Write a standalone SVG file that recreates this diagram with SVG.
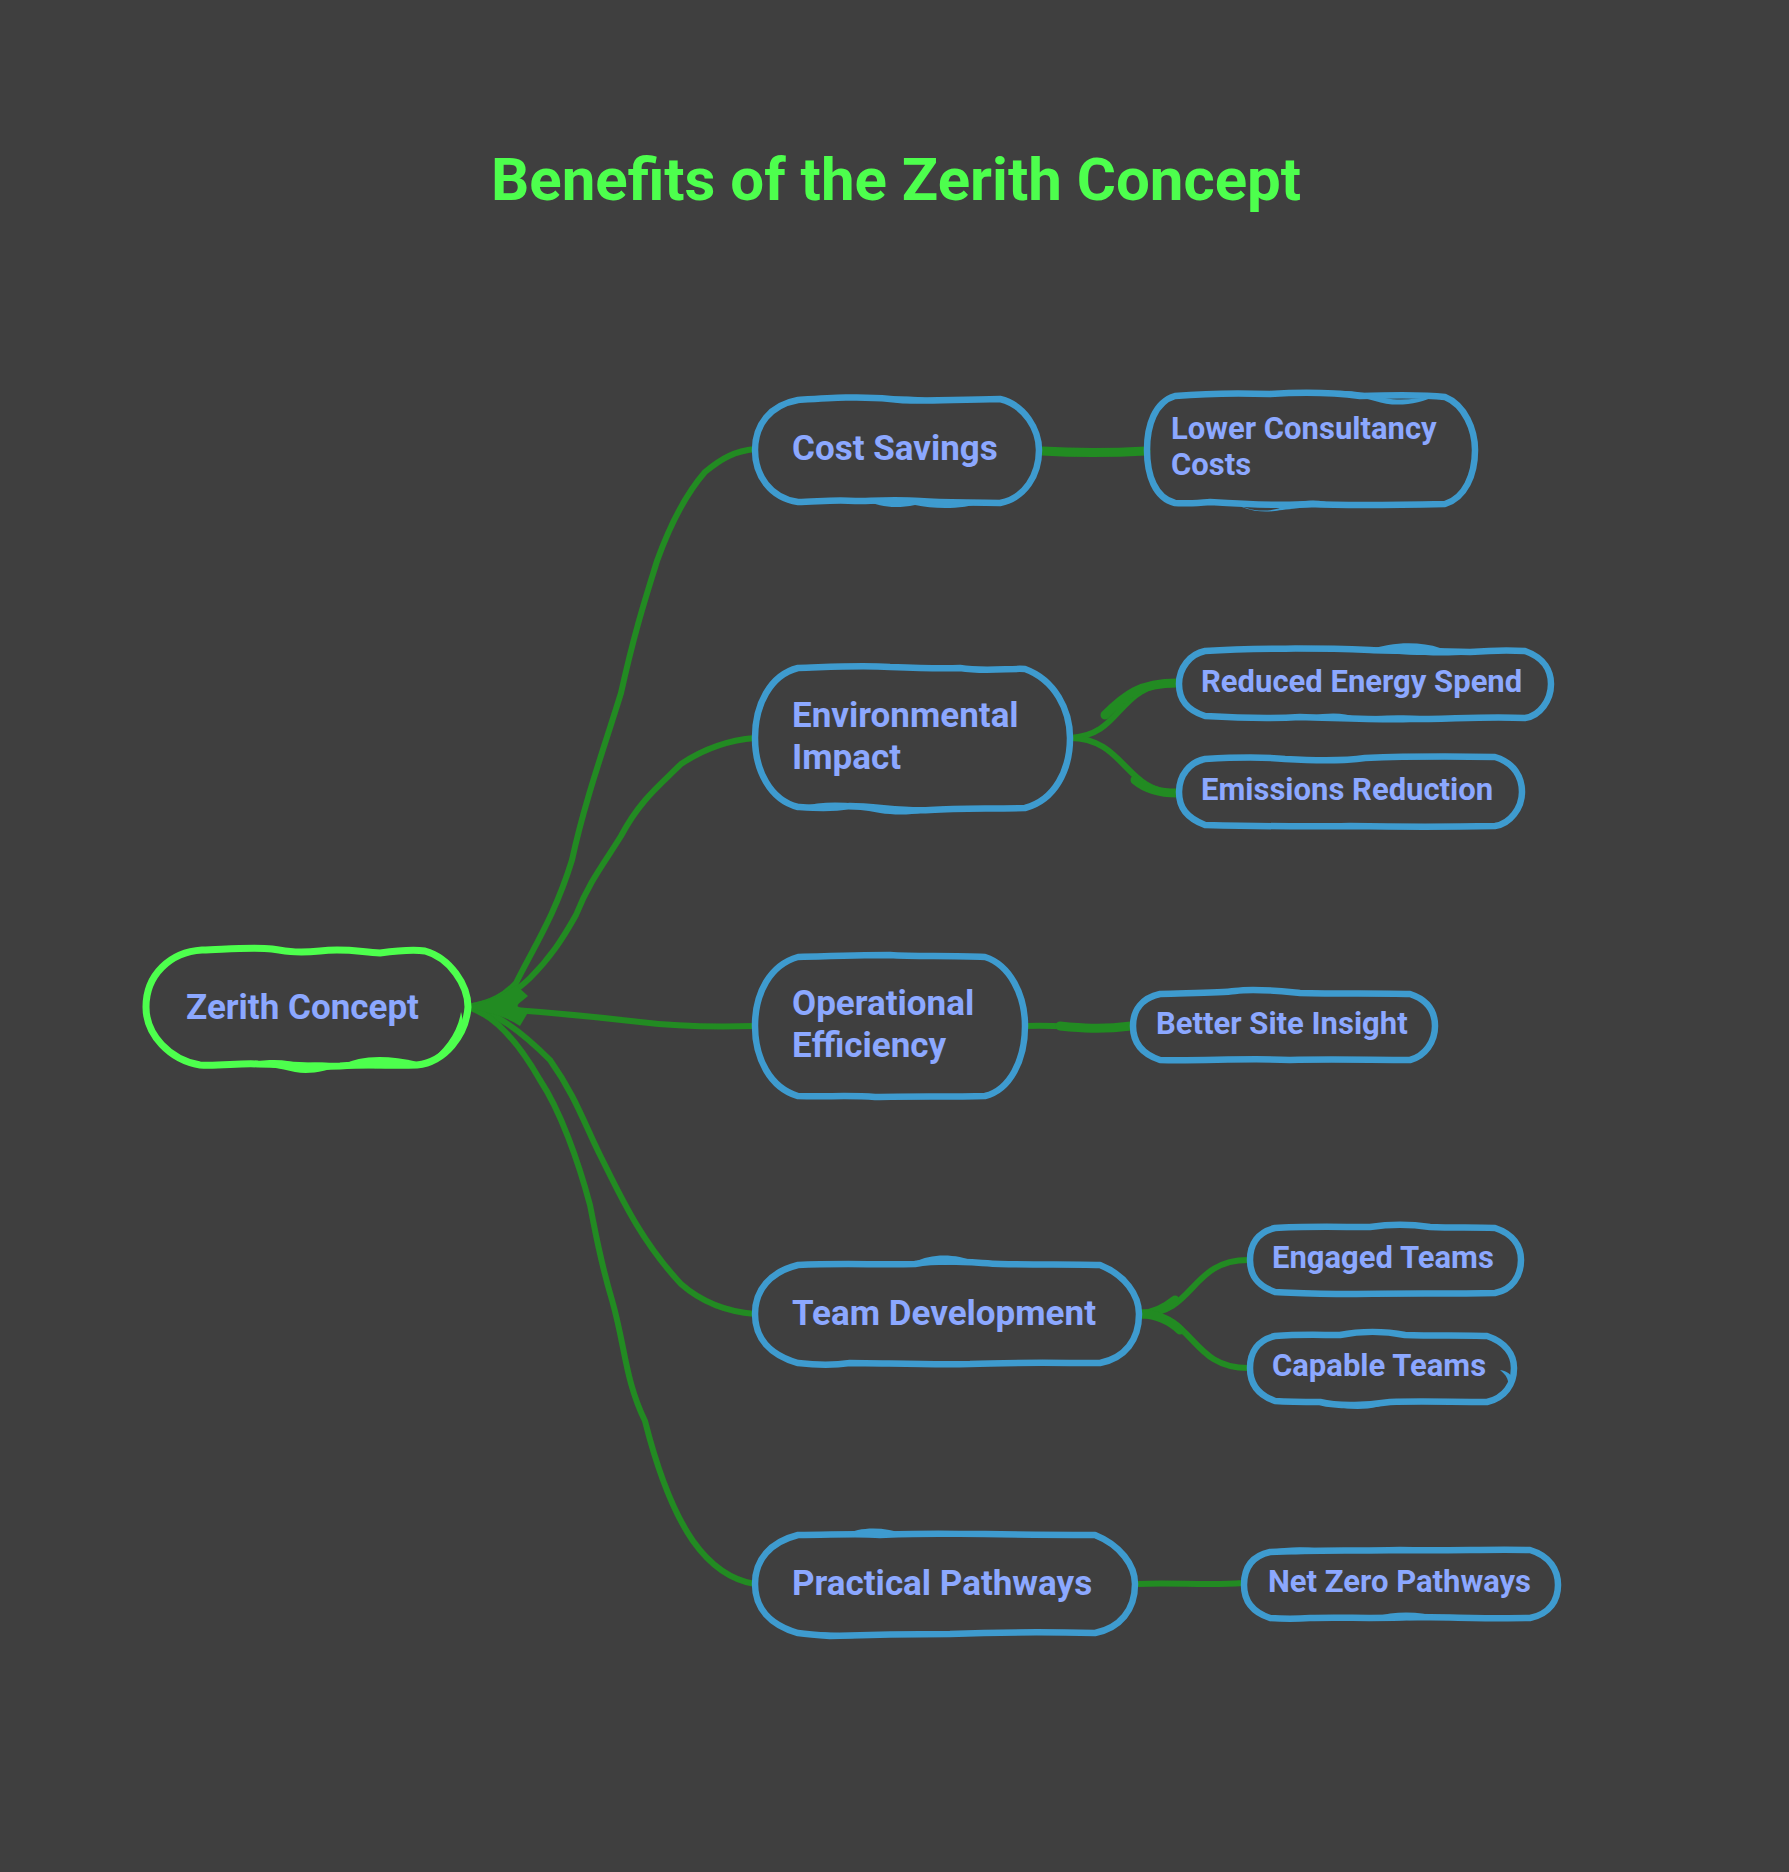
<svg xmlns="http://www.w3.org/2000/svg" width="1789" height="1872" viewBox="0 0 1789 1872">
<style>
text{font-family:Roboto,"Liberation Sans",sans-serif;font-weight:700;fill:#8ca8ff}
.t{font-size:60px;fill:#4dff4d}
.a{font-size:35px}
.b{font-size:31px}
.o{fill:none;stroke:#3e9bcf;stroke-width:6.5;stroke-linejoin:round}
.f{fill:#3e9bcf}
.ro{fill:none;stroke:#4dff4d;stroke-width:7;stroke-linejoin:round}
.rf{fill:#4dff4d}
.c{fill:none;stroke:#228b22;stroke-width:6;stroke-linecap:round}
.k{fill:none;stroke:#228b22;stroke-width:9;stroke-linecap:round}
.w{fill:#228b22}
</style>
<rect width="1789" height="1872" fill="#3f3f3f"/>
<text class="t" x="491" y="200">Benefits of the Zerith Concept</text>
<g id="connectors">
<path class="c" d="M468 1007C492 1003 505 995 516 983C535 945 555 915 572 860C585 800 605 745 621 693C635 630 645 600 657 561C670 525 685 495 705 472C722 458 735 451 755 449"/>
<path class="c" d="M468 1007C490 1003 510 998 530 978C550 958 562 940 576 915C590 880 605 862 621 836C640 800 660 785 681 764C705 748 730 740 755 738"/>
<path class="c" d="M468 1007C520 1010 570 1014 640 1022C680 1027 720 1027 755 1026"/>
<path class="c" d="M468 1007C495 1012 520 1030 550 1060C575 1095 585 1125 600 1155C620 1195 640 1240 681 1284C705 1305 730 1312 755 1314"/>
<path class="c" d="M468 1007C495 1015 520 1045 540 1080C560 1110 578 1160 590 1205C597 1240 600 1260 612 1300C625 1345 625 1380 645 1421C660 1480 675 1515 693 1541C710 1565 730 1580 755 1584"/>
<path class="w" d="M464 1007C485 1003 500 996 516 985L528 996C518 1005 510 1007 530 1009L520 1026C505 1016 485 1011 464 1007Z"/>
<path class="k" d="M1042 451C1075 453 1110 453 1146 451"/>
<path class="c" d="M1070 738C1125 735 1115 683 1177 683"/>
<path class="k" d="M1105 715C1125 695 1140 683 1177 683"/>
<path class="c" d="M1070 738C1125 738 1125 793 1177 793"/>
<path class="k" d="M1135 780C1147 790 1160 793 1177 793"/>
<path class="c" d="M1025 1026C1060 1024 1090 1030 1131 1026"/>
<path class="k" d="M1060 1026C1080 1028 1100 1030 1131 1026"/>
<path class="c" d="M1142 1314C1195 1314 1190 1260 1248 1260"/>
<path class="c" d="M1142 1314C1195 1314 1190 1368 1248 1368"/>
<path class="k" d="M1142 1314C1155 1314 1165 1308 1175 1300"/>
<path class="k" d="M1142 1314C1155 1314 1170 1320 1180 1330"/>
<path class="c" d="M1137 1584C1175 1582 1205 1586 1243 1583"/>
</g>
<g id="root">
<path class="ro" d="M202 950C230 949 255 947 272 949C290 952 300 953 320 951C345 948 360 952 380 953C395 951 410 949 425 951C450 958 468 985 468 1007C466 1035 445 1062 417 1065C390 1066 370 1064 340 1066C310 1067 280 1064 258 1064C240 1063 220 1066 200 1065C170 1060 146 1035 146 1007C146 975 170 952 202 950Z"/>
<path class="rf" d="M255 1062C275 1058 290 1061 302 1064C315 1061 335 1063 345 1065C325 1071 310 1075 295 1072C280 1068 265 1067 255 1062Z"/>
<path class="rf" d="M343 1065C358 1056 385 1054 418 1062C395 1069 370 1070 343 1065Z"/>
<path class="rf" d="M461 1012C468 1035 450 1058 425 1065C445 1050 458 1032 461 1012Z"/>
<text class="a" x="186" y="1019">Zerith Concept</text>
</g>
<g id="cost-savings">
<path class="o" d="M798 400C830 398 860 396 890 399C915 402 935 400 1000 399C1025 405 1039 430 1039 450C1039 475 1025 498 1000 503C970 502 945 503 920 501C895 499 870 501 855 501C835 499 815 502 798 502C770 498 755 475 755 450C755 425 770 405 798 400Z"/>
<path class="f" d="M880 398C900 395 925 397 940 400C915 405 895 404 880 398Z"/>
<path class="f" d="M865 500C880 504 900 504 915 500C925 505 950 506 985 502C960 510 935 509 915 505C895 509 880 507 865 500Z"/>
<text class="a" x="792" y="460">Cost Savings</text>
</g>
<g id="lower-consultancy">
<path class="o" d="M1175 396C1210 393 1240 393 1270 394C1300 392 1330 392 1360 396C1390 395 1420 394 1445 397C1465 405 1475 430 1475 450C1475 475 1465 498 1445 504C1400 505 1350 506 1310 504C1280 506 1240 504 1210 502C1195 503 1185 504 1175 503C1155 498 1147 475 1147 450C1147 425 1155 402 1175 396Z"/>
<path class="f" d="M1320 393C1340 388 1365 392 1385 398C1400 401 1415 399 1435 396C1420 404 1395 408 1375 401C1355 395 1335 396 1320 393Z"/>
<path class="f" d="M1235 503C1250 512 1270 513 1285 506C1300 500 1320 498 1335 505C1315 507 1285 509 1275 511C1260 513 1245 510 1235 503Z"/>
<text class="b" x="1171" y="439">Lower Consultancy</text>
<text class="b" x="1171" y="475">Costs</text>
</g>
<g id="environmental-impact">
<path class="o" d="M798 668C830 667 860 665 890 667C915 668 940 669 960 668C985 672 1010 668 1025 669C1055 680 1070 710 1070 738C1070 770 1055 800 1025 808C990 809 960 808 930 810C905 812 875 806 850 806C830 809 815 808 798 807C770 800 755 770 755 738C755 705 770 675 798 668Z"/>
<path class="f" d="M800 807C825 800 850 802 880 807C900 812 925 812 945 806C925 815 900 816 880 813C850 807 825 809 800 807Z"/>
<text class="a" x="792" y="727">Environmental</text>
<text class="a" x="792" y="769">Impact</text>
</g>
<g id="reduced-energy">
<path class="o" d="M1205 651C1250 648 1320 648 1370 650C1395 651 1430 651 1470 652C1495 650 1510 650 1525 651C1545 658 1551 672 1551 684C1551 700 1540 716 1525 718C1490 716 1450 719 1410 719C1380 720 1340 718 1300 717C1270 719 1240 718 1205 716C1187 710 1179 700 1179 684C1179 668 1190 654 1205 651Z"/>
<path class="f" d="M1370 650C1390 642 1420 641 1440 648C1455 652 1475 653 1495 651C1470 656 1440 656 1425 655C1405 655 1385 653 1370 650Z"/>
<path class="f" d="M1310 716C1330 712 1345 713 1355 717C1375 716 1395 714 1420 716C1400 723 1380 722 1360 720C1340 722 1325 720 1310 716Z"/>
<text class="b" x="1201" y="692">Reduced Energy Spend</text>
</g>
<g id="emissions-reduction">
<path class="o" d="M1205 759C1240 757 1265 757 1285 759C1320 761 1345 761 1365 758C1390 757 1430 756 1495 757C1515 763 1522 778 1522 792C1522 808 1510 824 1495 826C1450 827 1400 827 1350 826C1300 827 1250 826 1205 825C1187 818 1179 808 1179 792C1179 775 1190 762 1205 759Z"/>
<text class="b" x="1201" y="800">Emissions Reduction</text>
</g>
<g id="operational-efficiency">
<path class="o" d="M798 957C830 956 860 955 890 955C915 957 950 955 985 957C1010 965 1025 995 1025 1026C1025 1060 1010 1090 985 1096C950 1097 910 1096 875 1097C850 1095 825 1097 798 1096C770 1088 755 1058 755 1026C755 993 770 965 798 957Z"/>
<text class="a" x="792" y="1015">Operational</text>
<text class="a" x="792" y="1057">Efficiency</text>
</g>
<g id="better-site-insight">
<path class="o" d="M1160 994C1190 993 1220 993 1235 991C1255 988 1280 991 1300 993C1340 994 1380 993 1410 994C1428 1000 1435 1012 1435 1026C1435 1042 1425 1056 1410 1060C1370 1060 1330 1059 1290 1060C1250 1058 1200 1061 1160 1060C1142 1054 1133 1042 1133 1026C1133 1010 1142 998 1160 994Z"/>
<text class="b" x="1156" y="1034">Better Site Insight</text>
</g>
<g id="team-development">
<path class="o" d="M798 1265C840 1263 880 1265 915 1264C945 1259 975 1263 1000 1264C1040 1265 1070 1264 1100 1265C1125 1275 1139 1295 1139 1314C1139 1340 1125 1358 1100 1363C1060 1363 1010 1362 970 1364C930 1365 880 1363 850 1363C830 1366 815 1365 798 1363C770 1355 755 1338 755 1314C755 1290 770 1272 798 1265Z"/>
<path class="f" d="M915 1262C930 1254 955 1253 975 1262C955 1266 935 1266 915 1262Z"/>
<text class="a" x="792" y="1325">Team Development</text>
</g>
<g id="engaged-teams">
<path class="o" d="M1275 1228C1300 1226 1340 1227 1370 1227C1390 1224 1410 1224 1430 1227C1455 1228 1475 1227 1495 1228C1513 1234 1521 1246 1521 1260C1521 1276 1512 1290 1495 1293C1450 1294 1400 1293 1350 1294C1320 1294 1300 1293 1275 1292C1258 1286 1250 1276 1250 1260C1250 1244 1258 1232 1275 1228Z"/>
<text class="b" x="1272" y="1268">Engaged Teams</text>
</g>
<g id="capable-teams">
<path class="o" d="M1275 1336C1300 1334 1320 1335 1340 1335C1360 1331 1385 1331 1405 1335C1435 1336 1465 1335 1487 1336C1505 1342 1514 1354 1514 1368C1514 1384 1505 1398 1487 1402C1450 1402 1420 1401 1390 1402C1370 1405 1340 1407 1320 1402C1305 1402 1290 1402 1275 1401C1258 1395 1250 1384 1250 1368C1250 1352 1258 1340 1275 1336Z"/>
<path class="f" d="M1500 1370C1515 1372 1516 1385 1505 1393C1510 1385 1510 1378 1500 1370Z"/>
<path class="f" d="M1320 1400C1340 1404 1370 1404 1395 1400C1375 1412 1340 1412 1320 1400Z"/>
<text class="b" x="1272" y="1376">Capable Teams</text>
</g>
<g id="practical-pathways">
<path class="o" d="M798 1535C830 1535 860 1533 880 1535C915 1533 950 1534 985 1534C1030 1535 1060 1535 1095 1535C1120 1545 1135 1565 1135 1584C1135 1610 1120 1628 1095 1633C1050 1632 1000 1632 950 1634C910 1634 860 1635 830 1636C815 1635 805 1634 798 1633C770 1625 755 1608 755 1584C755 1560 770 1542 798 1535Z"/>
<path class="f" d="M845 1535C860 1526 885 1527 905 1534C885 1538 865 1538 845 1535Z"/>
<path class="f" d="M810 1632C825 1639 850 1640 870 1636C850 1633 830 1632 810 1632Z"/>
<text class="a" x="792" y="1595">Practical Pathways</text>
</g>
<g id="net-zero-pathways">
<path class="o" d="M1270 1552C1310 1550 1350 1551 1400 1550C1450 1551 1490 1549 1530 1550C1550 1556 1558 1570 1558 1585C1558 1600 1550 1614 1530 1618C1490 1619 1450 1617 1410 1617C1380 1619 1340 1617 1310 1618C1295 1619 1285 1619 1270 1618C1252 1612 1244 1600 1244 1585C1244 1568 1252 1556 1270 1552Z"/>
<path class="f" d="M1265 1552C1285 1546 1310 1546 1335 1551C1310 1555 1285 1555 1265 1552Z"/>
<path class="f" d="M1375 1617C1395 1611 1420 1611 1440 1618C1420 1621 1395 1621 1375 1617Z"/>
<text class="b" x="1268" y="1592">Net Zero Pathways</text>
</g>
</svg>
